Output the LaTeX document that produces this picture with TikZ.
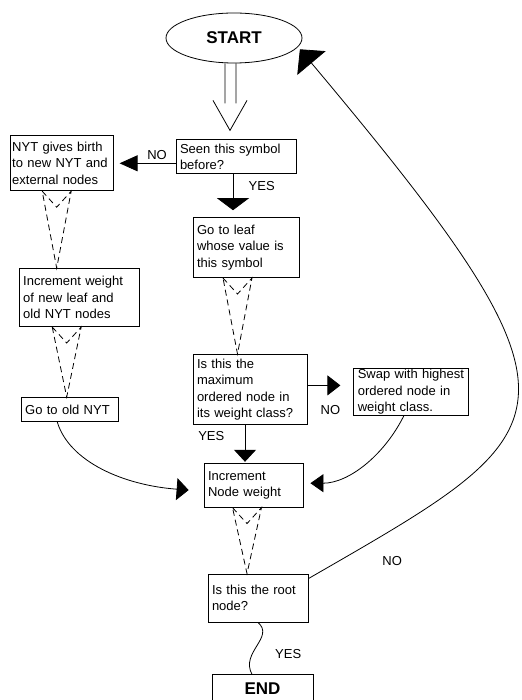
\documentclass[tikz,border=0pt]{standalone}
\usepackage{fontspec}
\setmainfont{Liberation Sans}
\usetikzlibrary{positioning,arrows.meta,shapes.geometric}

\newcommand{\dashdart}[3]{%
  \path (#1.south) ++(#3,0) coordinate (dtop);
  \draw[dartline] ([xshift=-14.5pt]dtop) -- ([yshift=-16pt]dtop) -- ([xshift=14.5pt]dtop) -- (dtop |- #2.north) -- cycle;
}

\begin{document}
\begin{tikzpicture}[x=1pt, y=-1pt, line width=0.8pt,
    every node/.style={font=\fontsize{13}{16.5}\selectfont},
    box/.style={draw, align=left, inner xsep=4pt, inner ysep=1pt},
    bigtext/.style={font=\fontsize{17}{20}\selectfont\bfseries},
    dartline/.style={dash pattern=on 6pt off 4pt},
    blackhead/.style 2 args={-{Triangle[length=#1,width=#2]}}]
  \useasboundingbox (0,0) rectangle (521,700);
  \fill[white] (0,0) rectangle (521,700);

  \node[draw, ellipse, bigtext, minimum width=136pt, minimum height=50pt] (start) at (234,38) {START};
  \node[box, text width=112pt, minimum height=34pt, below=76pt of start, xshift=2pt] (seen) {Seen this symbol\\before?};
  \node[box, inner xsep=2pt, text width=99pt, minimum height=55pt, left=62pt of seen, yshift=-6.5pt] (birth) {NYT gives birth\\to new NYT and\\external nodes};
  \node[box, text width=98pt, minimum height=60pt, below=43pt of seen, xshift=10pt] (leaf) {Go to leaf\\whose value is\\this symbol};
  \node[box, text width=112pt, minimum height=58pt, below=77pt of birth, xshift=17.5pt] (incnew) {Increment weight\\of new leaf and\\old NYT nodes};
  \node[box, text width=89pt, minimum height=24pt, below=70pt of incnew, xshift=-9.5pt] (oldnyt) {Go to old NYT};
  \node[box, text width=106pt, minimum height=70pt, below=76pt of leaf, xshift=4pt] (maxq) {Is this the\\maximum\\ordered node in\\its weight class?};
  \node[box, text width=107pt, minimum height=47pt, right=46pt of maxq, yshift=-2.5pt] (swap) {Swap with highest\\ordered node in\\weight class.};
  \node[box, text width=91pt, minimum height=44pt, below=38pt of maxq, xshift=3.5pt] (incnode) {Increment\\Node weight};
  \node[box, text width=92pt, minimum height=48pt, below=66pt of incnode, xshift=4.5pt] (rootq) {Is this the root\\node?};
  \node[box, bigtext, align=center, text width=93pt, text depth=5pt, minimum height=32pt, below=52pt of rootq, xshift=4.5pt] (finish) {END};

  % hollow double arrow out of START
  \draw ([xshift=-9pt]start.south) -- ++(0,40)
        ([xshift=2pt]start.south) -- ++(0,40)
        ([xshift=-21pt,yshift=-37pt]start.south) -- ([xshift=-6pt,yshift=9pt]seen.north) -- ([xshift=13pt,yshift=-37pt]start.south);

  \draw[blackhead={18pt}{16pt}, shorten >=6pt] (seen.west |- birth.east) -- (birth.east) node[pos=.3, above] {NO};
  \draw[blackhead={12pt}{32pt}, shorten >=7pt] ([xshift=-3pt]seen.south) -- ([xshift=-13pt]leaf.north) node[pos=.28, right=12pt] {YES};

  \dashdart{birth}{incnew}{-5}
  \dashdart{incnew}{oldnyt}{-12.5}
  \dashdart{leaf}{maxq}{-8.5}
  \dashdart{incnode}{rootq}{-6.5}

  \draw[blackhead={13pt}{20pt}, shorten >=13pt] ([yshift=4pt]maxq.east) -- ([yshift=6.5pt]swap.west) node[pos=.5, below=16pt] {NO};
  \draw[blackhead={12pt}{22pt}, shorten >=1pt] ([xshift=-5pt]maxq.south) -- ([xshift=-8.5pt]incnode.north) node[pos=.3, left=17pt] {YES};
  \draw[blackhead={13pt}{18pt}, shorten >=7pt] ([xshift=-7.5pt]swap.south) .. controls +(-20,40) and +(45,0) .. ([yshift=2pt]incnode.east);
  \draw[blackhead={12pt}{22pt}, shorten >=15pt] ([xshift=-12.5pt]oldnyt.south) .. controls +(12,40) and +(-80,-6) .. ([yshift=-6pt]incnode.west);

  \draw (rootq.south) .. controls +(17,15) and +(-12,-22) .. ([xshift=-10.5pt]finish.north) node[pos=.65, right=19pt] {YES};
  \draw[blackhead={18pt}{37pt}, shorten >=3pt] ([yshift=-5pt]rootq.north east) .. controls +(260,-150) and +(309,368) .. (start.-8) node[pos=.12, below=23pt] {NO};
\end{tikzpicture}
\end{document}
